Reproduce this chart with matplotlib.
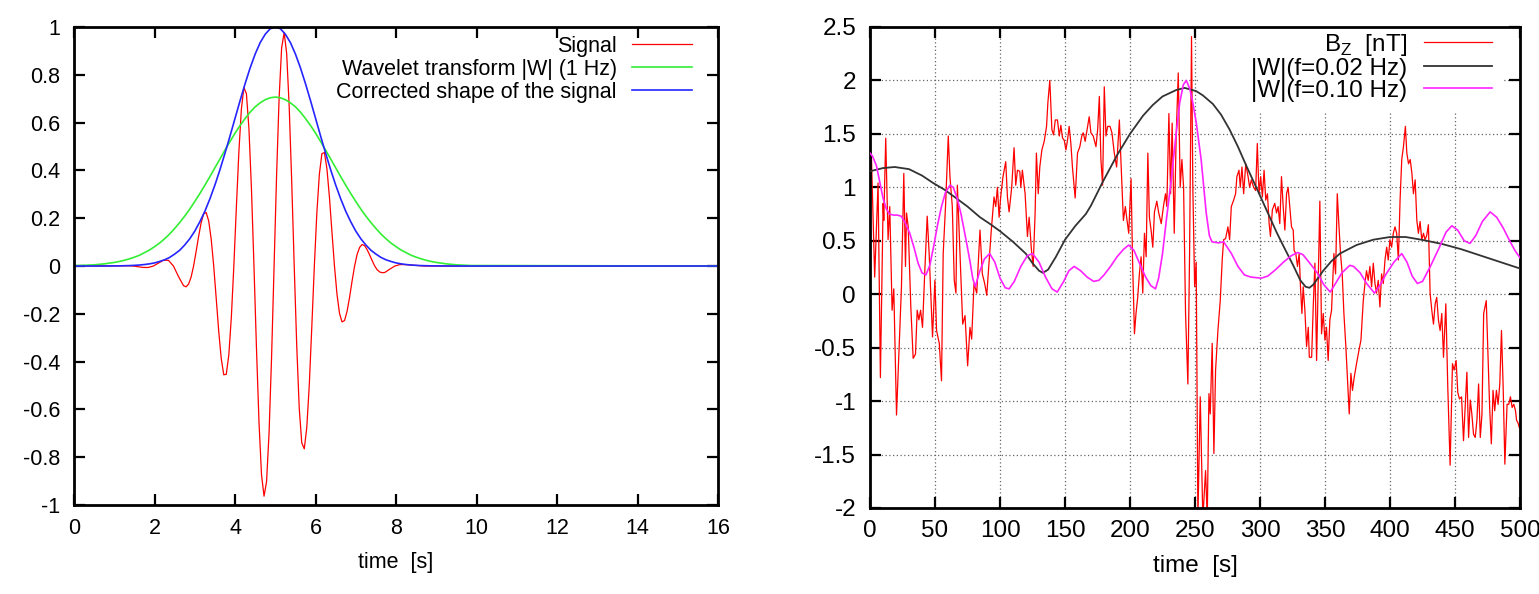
import numpy as np
import matplotlib.pyplot as plt
from matplotlib.patches import Rectangle

plt.rcParams['font.family'] = ['Liberation Sans', 'DejaVu Sans']
plt.rcParams['mathtext.fontset'] = 'custom'
plt.rcParams['mathtext.rm'] = 'Liberation Sans'

# ---- left panel: wavelet test signal ----
# sampled finer where the oscillation is large
sig_t = ([0.0] + list(np.linspace(1.22, 2.595, 12)) + list(np.linspace(2.72, 7.72, 81))
         + list(np.linspace(7.845, 8.22, 4)) + [8.7, 16.0])
sig_v = [0.0,
         0.001, 0.001, 0.0, -0.003, -0.006, -0.006, 0.0, 0.012, 0.024, 0.024, 0.0, -0.044,
         -0.082, -0.087, -0.076, -0.047, 0.0, 0.060, 0.124, 0.181,
         0.218, 0.224, 0.189, 0.113, 0.0, -0.136, -0.274, -0.388,
         -0.455, -0.453, -0.372, -0.216, 0.0, 0.244, 0.477, 0.657,
         0.747, 0.721, 0.575, 0.324, 0.0, -0.345, -0.653, -0.873,
         -0.963, -0.903, -0.699, -0.381, 0.0, 0.383, 0.704, 0.913,
         0.977, 0.889, 0.668, 0.354, 0.0, -0.334, -0.596, -0.740,
         -0.765, -0.675, -0.495, -0.252, 0.0, 0.223, 0.385, 0.470,
         0.475, 0.407, 0.288, 0.142, 0.0, -0.118, -0.198, -0.234,
         -0.228, -0.190, -0.131, -0.063, 0.0, 0.049, 0.078, 0.090,
         0.085, 0.068, 0.046, 0.022, 0.0, -0.016, -0.025, -0.028,
         -0.027,
         -0.013, 0.0, 0.006, 0.006,
         0.0, 0.0]

env_t = list(np.linspace(0, 10, 81)) + [16.0]
wt_v = [0.002, 0.002, 0.003, 0.004, 0.005, 0.007, 0.009, 0.012, 0.015, 0.019,
        0.024, 0.030, 0.037, 0.045, 0.056, 0.067, 0.081, 0.096, 0.114, 0.134,
        0.157, 0.182, 0.209, 0.238, 0.270, 0.303, 0.338, 0.374, 0.411, 0.448,
        0.485, 0.521, 0.556, 0.588, 0.617, 0.644, 0.666, 0.683, 0.696, 0.704,
        0.707,
        0.704, 0.696, 0.683, 0.666, 0.644, 0.617, 0.588, 0.556, 0.521, 0.485,
        0.448, 0.411, 0.374, 0.338, 0.303, 0.270, 0.238, 0.209, 0.182, 0.157,
        0.134, 0.114, 0.096, 0.081, 0.067, 0.056, 0.045, 0.037, 0.030, 0.024,
        0.019, 0.015, 0.012, 0.009, 0.007, 0.005, 0.004, 0.003, 0.002, 0.002,
        0.0]
shape_v = [0.0, 0.0, 0.0, 0.0, 0.0, 0.0, 0.0002, 0.0003, 0.0005, 0.0007,
           0.0012, 0.0018, 0.0028, 0.0042, 0.0062, 0.0091, 0.013, 0.019, 0.026, 0.036,
           0.050, 0.066, 0.088, 0.114, 0.146, 0.185, 0.229, 0.281, 0.339, 0.403,
           0.472, 0.544, 0.618, 0.692, 0.763, 0.829, 0.887, 0.935, 0.970, 0.993,
           1.0,
           0.993, 0.970, 0.935, 0.887, 0.829, 0.763, 0.692, 0.618, 0.544, 0.472,
           0.403, 0.339, 0.281, 0.229, 0.185, 0.146, 0.114, 0.088, 0.066, 0.050,
           0.036, 0.026, 0.019, 0.013, 0.0091, 0.0062, 0.0042, 0.0028, 0.0018, 0.0012,
           0.0007, 0.0005, 0.0003, 0.0002, 0.0, 0.0, 0.0, 0.0, 0.0, 0.0,
           0.0]

# ---- right panel: Bz record and wavelet amplitudes ----
bz_t = [0, 1.1, 3.6, 6.2, 8.0, 10.1, 10.6, 12.1, 13.9, 15.2, 17.0, 18.3, 20.4, 23.0, 24.2,
        26.0, 27.3, 28.1, 29.4, 31.4, 33.2, 35.0, 36.3, 37.6, 38.9, 40.4, 42.2, 44.0, 45.5,
        48.1, 49.9, 51.2, 53.3, 55.0, 56.3, 58.2, 60.2, 61.5, 63.3, 64.8, 66.1, 67.2, 69.2,
        71.3, 73.1, 75.1, 76.9, 78.2, 80.0, 82.1, 84.6, 86.4, 88.2, 89.8, 91.5, 93.3, 95.4,
        96.7, 98.0, 99.3, 100.5, 102.3, 104.4, 105.7, 107.0, 109.0, 110.8, 112.1, 113.4,
        115.2, 116.0, 117.2, 119.3, 121.1, 122.4, 124.2, 125.5, 127.0, 128.0, 129.4, 130.6,
        132.2, 134.0, 135.8, 136.8, 138.3, 139.9, 141.2, 142.5, 144.2, 145.6, 146.8, 148.1,
        149.4, 150.7, 151.9, 153.2, 154.5, 155.7, 157.8, 159.6, 161.4, 162.9, 164.0, 165.5,
        168.6, 169.9, 171.7, 173.8, 175.1, 176.4, 177.6, 178.9, 180.2, 181.5, 182.8, 184.6,
        186.1, 187.9, 189.7, 191.8, 193.1, 194.9, 196.4, 197.4, 199.0, 200.8, 202.0, 203.4,
        204.6, 205.9, 207.2, 208.5, 209.8, 211.1, 212.4, 213.7, 214.9, 216.2, 217.5, 218.8,
        220.6, 222.1, 224.0, 225.8, 227.3, 228.3, 229.9, 231.2, 232.4, 234.0, 235.5, 237.1,
        238.6, 239.9, 241.2, 242.7, 244.5, 245.8, 247.3, 248.3, 249.7, 250.9, 252.2, 254.0,
        256.0, 258.1, 259.4, 260.7, 261.7, 263.2, 264.5, 265.8, 267.6, 269.4, 270.9, 272.0,
        273.5, 275.3, 276.6, 277.9, 279.7, 281.2, 282.2, 283.8, 284.8, 286.1, 287.4, 289.0,
        290.8, 292.0, 293.3, 295.1, 296.6, 297.9, 299.2, 300.5, 301.8, 303.1, 304.4, 305.7,
        307.0, 308.0, 309.5, 311.3, 312.7, 313.9, 315.2, 316.5, 317.8, 319.1, 320.4, 321.6,
        322.9, 324.2, 325.5, 326.2, 327.5, 328.8, 330.1, 331.1, 332.2, 333.2, 334.5, 335.8,
        337.1, 337.9, 339.7, 340.9, 342.2, 343.5, 344.8, 346.0, 347.3, 348.6, 349.9, 351.1,
        352.4, 353.7, 355.0, 356.8, 358.1, 359.4, 360.6, 361.9, 363.2, 364.5, 366.0, 367.3,
        368.6, 369.9, 371.1, 372.4, 374.2, 376.0, 377.6, 379.4, 380.7, 381.9, 383.2, 384.5,
        385.8, 387.1, 388.4, 389.6, 390.9, 392.2, 393.5, 394.8, 396.1, 397.4, 398.6, 399.9,
        401.2, 402.5, 403.8, 405.1, 406.4, 407.7, 409.0, 410.3, 411.8, 412.9, 414.2, 415.5,
        416.8, 418.0, 419.3, 420.6, 421.8, 423.1, 424.4, 425.7, 426.9, 428.2, 429.5, 430.8,
        432.1, 433.4, 434.7, 435.9, 437.2, 438.5, 439.8, 441.1, 442.9, 444.4, 446.2, 448.0,
        449.3, 450.8, 452.1, 453.4, 455.0, 456.5, 457.8, 459.1, 460.4, 461.7, 462.9, 464.2,
        465.5, 466.8, 468.1, 469.4, 470.7, 472.0, 474.0, 475.3, 476.6, 477.9, 479.2, 480.5,
        481.8, 483.1, 484.4, 485.7, 487.0, 488.3, 490.0, 491.3, 492.6, 493.9, 495.2, 496.5,
        497.3, 498.3, 499.5]
bz_v = [1.0, 1.29, 0.16, 1.04, -0.78, 0.85, 0.69, 1.46, 0.51, 0.82, -0.15, 0.05, -1.13, -0.31, 0.07,
        1.13, 0.26, 0.76, 0.63, -0.12, -0.6, -0.56, -0.15, -0.24, -0.15, -0.31, 0.23, 0.73, 0.38,
        -0.4, 0.13, -0.34, -0.46, -0.81, 0.38, 0.85, 1.48, 1.1, 0.82, 0.13, 0.01, 1.02, 0.38,
        -0.28, -0.2, -0.67, -0.31, -0.42, 0.1, 0.01, 0.6, 0.19, 0.1, -0.01, 0.29, 0.6, 0.91,
        0.82, 1.0, 0.72, 0.91, 1.1, 1.24, 0.91, 0.77, 1.0, 1.37, 1.02, 1.16,
        1.15, 1.0, 1.16, 0.94, 0.54, 0.72, 0.41, 0.26, 0.76, 1.32, 0.94, 1.19,
        1.35, 1.43, 1.57, 1.79, 2.0, 1.54, 1.49, 1.63, 1.63, 1.48, 1.58, 1.46,
        1.44, 1.35, 1.44, 1.57, 1.41, 1.19, 0.9, 1.32, 1.38, 1.48, 1.51, 1.43,
        1.66, 1.51, 1.48, 1.38, 1.54, 1.85, 1.26, 1.02, 1.94, 1.48, 1.57, 1.57,
        1.51, 1.32, 1.19, 1.63, 1.22, 0.69, 0.82, 0.72, 0.57, 1.08, 0.29, -0.37,
        -0.18, -0.03, 0.19, 0.35, 0.01, 0.57, 0.35, 1.32, 0.72, 0.6, 0.44, 0.77,
        0.87, 0.76, 0.66, 0.83, 0.94, 0.82, 1.69, 0.94, 1.6, 0.57, 1.48, 2.07,
        1.0, 1.26, 1.0, -0.18, -0.84, 0.38, 2.41, 1.0, 0.07, 0.3, -2.1, -0.96,
        -2.1, -1.65, -2.1, -0.93, -1.12, -0.46, -1.49, -0.71, -0.34, -0.06, 0.32, 0.51,
        0.52, 0.63, 0.51, 0.82, 0.88, 0.94, 1.1, 1.16, 1.0, 1.19, 0.94, 1.22,
        1.1, 1.0, 1.07, 1.0, 0.97, 1.41, 0.94, 1.1, 0.91, 1.16, 0.88, 0.94,
        0.66, 0.54, 0.79, 0.85, 0.76, 0.82, 0.66, 1.1, 0.82, 0.6, 0.94, 1.0,
        0.82, 0.63, 0.6, 0.41, 0.38, 0.26, 0.38, 0.07, -0.18, 0.07, -0.15, -0.49,
        -0.31, -0.59, -0.59, -0.12, 0.29, -0.62, 0.13, 0.87, -0.37, -0.18, -0.43, -0.31,
        -0.62, -0.24, -0.15, 0.38, 0.19, 0.94, 0.66, 0.38, 0.19, -0.18, -0.49, -0.81,
        -1.12, -0.74, -0.9, -0.78, -0.65, -0.53, -0.43, -0.06, 0.1, 0.22, 0.13, 0.26,
        0.07, 0.29, 0.1, 0.01, 0.13, -0.12, 0.19, 0.1, 0.32, 0.44, 0.32, 0.51,
        0.44, 0.57, 0.63, 0.57, 0.32, 0.88, 1.26, 1.38, 1.57, 1.32, 1.22, 1.26,
        1.13, 0.94, 1.07, 0.69, 0.57, 0.68, 0.51, 0.57, 0.51, 0.55, 0.65, 0.01,
        -0.15, -0.28, -0.09, -0.03, -0.24, -0.34, -0.18, -0.59, -0.09, -0.87, -1.6, -0.65,
        -0.71, -0.62, -0.92, -0.98, -0.96, -1.37, -1.06, -0.73, -1.34, -0.99, -1.12, -1.31,
        -1.34, -1.18, -0.84, -1.34, -1.12, -0.18, -0.06, -0.56, -1.06, -1.4, -0.9, -1.09,
        -0.9, -1.03, -0.84, -0.34, -0.87, -1.59, -1.03, -1.03, -0.96, -1.06, -1.03, -1.09,
        -1.18, -1.2, -1.25]

w002_t = [0, 10, 19, 30, 40, 48.6, 57, 65, 75, 84.6, 92, 100, 110, 119.8, 125, 130, 133,
          137, 143, 150, 158, 166, 170, 179, 190, 200, 210, 217.5, 225, 235.5, 242, 250.9,
          256, 263.7, 270, 276.6, 283, 289.5, 299.7, 306, 312.7, 318, 325.5, 331, 335,
          338, 341, 348.6, 355, 361.4, 374.2, 387.1, 400, 412, 424, 440, 455, 470, 485, 500]
w002_v = [1.15, 1.18, 1.19, 1.17, 1.11, 1.04, 0.98, 0.91, 0.82, 0.72, 0.66, 0.59, 0.49,
          0.38, 0.29, 0.22, 0.2, 0.23, 0.35, 0.51, 0.64, 0.75, 0.83, 1.05, 1.3, 1.5, 1.67,
          1.77, 1.85, 1.91, 1.93, 1.9, 1.86, 1.78, 1.68, 1.54, 1.38, 1.2, 0.93, 0.76, 0.58,
          0.45, 0.27, 0.13, 0.07, 0.06, 0.09, 0.22, 0.31, 0.38, 0.46, 0.51, 0.535, 0.535,
          0.51, 0.47, 0.42, 0.36, 0.3, 0.24]

w010_t = [0, 2, 5, 7.5, 10, 12.5, 15, 18, 21, 24, 27, 30.6, 34, 37, 40, 43, 46, 49, 52, 55,
          58, 61.5, 64, 67, 70, 74, 77, 79, 81, 84, 88, 92, 96, 100, 104, 107, 111, 116, 121,
          125, 130, 135, 140, 144, 149, 153, 157, 162, 167, 172, 176, 180, 185, 190, 195, 199,
          203, 208, 212, 216, 219.6, 222, 225, 228, 231.7, 235, 238.2, 241, 243.3, 246, 248.3,
          251, 254.7, 258.6, 261, 263, 268, 272, 278, 283, 288, 293, 297, 301, 306, 312, 318,
          324, 329, 333, 339.6, 344, 349, 354, 358, 363, 369, 372, 377, 382, 388, 392, 397,
          403, 409, 413, 417, 421, 425, 431, 438, 443, 447.5, 452, 457, 461.5, 466, 471, 477,
          482, 487, 492, 496, 500]
w010_v = [1.32, 1.29, 1.2, 1.05, 0.9, 0.8, 0.75, 0.74, 0.74, 0.73, 0.67, 0.57, 0.43, 0.29,
          0.2, 0.18, 0.27, 0.45, 0.65, 0.82, 0.95, 1.02, 1.0, 0.9, 0.75, 0.5, 0.3, 0.15, 0.07,
          0.2, 0.33, 0.38, 0.3, 0.15, 0.06, 0.05, 0.12, 0.26, 0.36, 0.38, 0.3, 0.16, 0.05,
          0.02, 0.12, 0.22, 0.26, 0.22, 0.16, 0.12, 0.13, 0.18, 0.26, 0.35, 0.42, 0.46, 0.41,
          0.27, 0.16, 0.08, 0.05, 0.15, 0.38, 0.7, 1.07, 1.45, 1.79, 1.96, 2.0, 1.92, 1.79,
          1.6, 1.26, 0.76, 0.55, 0.49, 0.48, 0.49, 0.38, 0.26, 0.18, 0.16, 0.155, 0.15, 0.17,
          0.23, 0.3, 0.36, 0.39, 0.37, 0.27, 0.2, 0.09, 0.02, 0.1, 0.2, 0.27, 0.26, 0.2, 0.1,
          0.01, 0.08, 0.19, 0.3, 0.38, 0.3, 0.17, 0.1, 0.12, 0.26, 0.44, 0.58, 0.64, 0.6,
          0.5, 0.475, 0.55, 0.68, 0.77, 0.72, 0.62, 0.5, 0.41, 0.34]

fig = plt.figure(figsize=(15.39, 5.94), dpi=100)
ax1 = fig.add_axes([0.0481, 0.1498, 0.4185, 0.8047])
ax2 = fig.add_axes([0.5653, 0.1448, 0.4224, 0.8098])

# left panel
ax1.plot(sig_t, sig_v, color='#ff0000', lw=0.9, label='Signal')
ax1.plot(env_t, wt_v, color='#33ee33', lw=1.2, label='Wavelet transform |W| (1 Hz)')
ax1.plot(env_t, shape_v, color='#2525ff', lw=1.2, label='Corrected shape of the signal')
ax1.set_xlim(0, 16)
ax1.set_ylim(-1, 1)
ax1.set_xticks(np.arange(0, 17, 2))
yt = np.round(np.arange(-1, 1.01, 0.2), 1) + 0.0
ax1.set_yticks(yt)
ax1.set_yticklabels(['%g' % v for v in yt])
ax1.tick_params(direction='in', length=8, width=1.6, top=True, right=True, labelsize=15.5)
ax1.tick_params(axis='x', pad=9)
ax1.tick_params(axis='y', pad=10)
ax1.set_xlabel('time  [s]', fontsize=15.5, labelpad=10)
ax1.legend(loc='upper right', bbox_to_anchor=(0.973, 1.0), frameon=False, markerfirst=False,
           fontsize=15.5, handlelength=2.8, handletextpad=0.7, labelspacing=0.1,
           borderaxespad=0, borderpad=0.4)

# right panel
ax2.set_axisbelow(True)
ax2.grid(True, linestyle=(0, (1, 2)), color='#666666', lw=0.9)
# opaque key area: hides the grid, the curves still pass over it
ax2.add_patch(Rectangle((0.505, 0.821), 0.468, 0.179, transform=ax2.transAxes,
                        facecolor='white', edgecolor='none', zorder=1))
ax2.plot(bz_t, bz_v, color='#ff0000', lw=0.9, label='B$_\\mathrm{Z}$  [nT]', zorder=2)
ax2.plot(w002_t, w002_v, color='#333333', lw=1.3, label='|W|(f=0.02 Hz)', zorder=3)
ax2.plot(w010_t, w010_v, color='#ff22ff', lw=1.2, label='|W|(f=0.10 Hz)', zorder=3)
ax2.set_xlim(0, 500)
ax2.set_ylim(-2, 2.5)
ax2.set_xticks(np.arange(0, 501, 50))
yt2 = np.arange(-2, 2.51, 0.5)
ax2.set_yticks(yt2)
ax2.set_yticklabels(['%g' % v for v in yt2])
ax2.tick_params(direction='in', length=8, width=1.6, top=True, right=True, labelsize=17.5)
ax2.tick_params(axis='x', pad=9)
ax2.tick_params(axis='y', pad=10)
ax2.set_xlabel('time  [s]', fontsize=17.5, labelpad=9)
ax2.legend(loc='upper right', bbox_to_anchor=(0.965, 1.0), frameon=False, markerfirst=False,
           fontsize=17.5, handlelength=2.8, handletextpad=0.7, labelspacing=0.0,
           borderaxespad=0, borderpad=0.2)

for ax in (ax1, ax2):
    for s in ax.spines.values():
        s.set_linewidth(2)

fig.savefig('out.png', dpi=100)
